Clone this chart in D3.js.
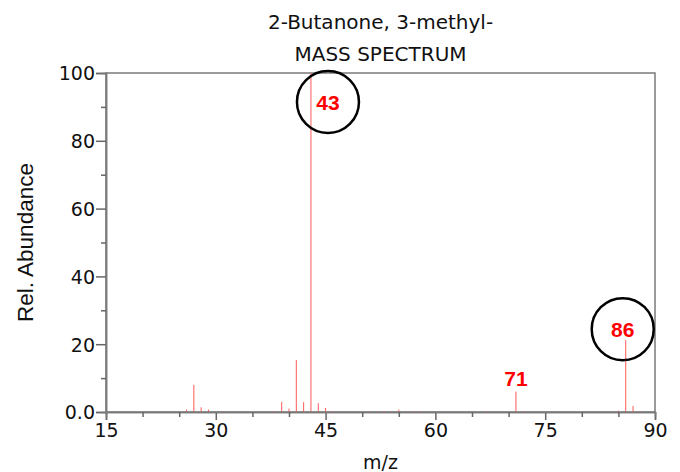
<!DOCTYPE html>
<html><head><meta charset="utf-8">
<script src="https://cdn.jsdelivr.net/npm/d3@7"></script>
<style>
html,body{margin:0;padding:0;background:#fff;}
svg{display:block;}
</style></head>
<body>
<script>
// ---- data ----
const titleLines = ["2-Butanone, 3-methyl-", "MASS SPECTRUM"];
const mzValues = [26, 27, 28, 29, 31, 37, 38, 39, 40, 41, 42, 43, 44, 45, 46,
                  51, 52, 53, 54, 55, 56, 57, 58, 59, 67, 68, 69, 71, 72, 84, 85, 86, 87, 88];
const abundances = [0.7, 8.0, 1.4, 0.7, 0.2, 0.2, 0.3, 3.0, 1.0, 15.3, 2.9, 100, 2.6, 1.2, 0.3,
                    0.2, 0.2, 0.3, 0.2, 0.7, 0.2, 0.3, 0.3, 0.2, 0.2, 0.2, 0.2, 6.0, 0.3, 0.2, 0.4, 21.2, 1.8, 0.2];
const xMajorTicks = [15, 30, 45, 60, 75, 90];
const xMinorTicks = [20, 25, 35, 40, 50, 55, 65, 70, 80, 85];
const yMajorTicks = [0, 20, 40, 60, 80, 100];
const yTickLabels = ["0.0", "20", "40", "60", "80", "100"];
const yMinorTicks = [10, 30, 50, 70, 90];
const labelledPeaks = [43, 71, 86];
const circledPeaks = [43, 86];

// ---- layout ----
const W = 680, H = 472;
const m = {left: 106, right: 25, top: 73, bottom: 60};
const svg = d3.select("body").append("svg").attr("width", W).attr("height", H);

const x = d3.scaleLinear().domain([15, 90]).range([m.left, W - m.right]);
const y = d3.scaleLinear().domain([0, 100]).range([H - m.bottom, m.top]);

const tickFont = "DejaVu Sans, sans-serif";
const axisColor = "#7a7a7a";

// title
svg.selectAll("text.title").data(titleLines).join("text")
  .attr("class", "title")
  .attr("x", (x(15) + x(90)) / 2)
  .attr("y", (d, i) => 29 + i * 32)
  .attr("text-anchor", "middle")
  .attr("font-family", tickFont)
  .attr("font-size", 20)
  .attr("fill", "#111")
  .text(d => d);

// frame (top & right)
svg.append("rect")
  .attr("x", x(15)).attr("y", y(100))
  .attr("width", x(90) - x(15)).attr("height", y(0) - y(100))
  .attr("fill", "none").attr("stroke", axisColor).attr("stroke-width", 1.5);

// peaks
svg.append("g").selectAll("line").data(mzValues).join("line")
  .attr("x1", d => x(d)).attr("x2", d => x(d))
  .attr("y1", y(0))
  .attr("y2", (d, i) => y(abundances[i]))
  .attr("stroke", "#ff5a5a").attr("stroke-width", 1);

// x axis
const xAxisMajor = d3.axisBottom(x).tickValues(xMajorTicks).tickSize(8).tickPadding(4)
  .tickFormat(d3.format("d"));
const gx = svg.append("g").attr("transform", `translate(0,${y(0)})`).call(xAxisMajor);
const xAxisMinor = d3.axisBottom(x).tickValues(xMinorTicks).tickSize(5).tickFormat("");
const gx2 = svg.append("g").attr("transform", `translate(0,${y(0)})`).call(xAxisMinor);

// y axis
const yAxisMajor = d3.axisLeft(y).tickValues(yMajorTicks).tickSize(10).tickPadding(1)
  .tickFormat((d, i) => yTickLabels[i]);
const gy = svg.append("g").attr("transform", `translate(${x(15)},0)`).call(yAxisMajor);
const yAxisMinor = d3.axisLeft(y).tickValues(yMinorTicks).tickSize(5).tickFormat("");
const gy2 = svg.append("g").attr("transform", `translate(${x(15)},0)`).call(yAxisMinor);

[gx, gx2, gy, gy2].forEach(g => {
  g.select(".domain").attr("stroke", axisColor).attr("stroke-width", 1.5);
  g.selectAll(".tick line").attr("stroke", "#666").attr("stroke-width", 1.5);
  g.selectAll(".tick text").attr("font-family", tickFont).attr("font-size", 19).attr("fill", "#111");
});
gy.selectAll(".tick text").attr("dy", "0.36em");

// axis titles
svg.append("text")
  .attr("x", (x(15) + x(90)) / 2).attr("y", 469)
  .attr("text-anchor", "middle")
  .attr("font-family", tickFont).attr("font-size", 19).attr("fill", "#111")
  .text("m/z");
svg.append("text")
  .attr("transform", `translate(33,${(y(0) + y(100)) / 2}) rotate(-90)`)
  .attr("text-anchor", "middle")
  .attr("font-family", "Liberation Sans, Arial, sans-serif").attr("font-size", 22.5).attr("fill", "#111")
  .text("Rel. Abundance");

// annotations
const peakVal = mz => abundances[mzValues.indexOf(mz)];
const ann = svg.append("g");
labelledPeaks.forEach(mz => {
  const px = x(mz), py = y(peakVal(mz));
  let cx, cy;
  if (mz === 43) { cx = px + 17; cy = py + 29; }
  else if (mz === 86) { cx = px - 3; cy = py - 11; }
  else { cx = px; cy = py - 13; }
  if (circledPeaks.includes(mz)) {
    ann.append("circle").attr("cx", cx).attr("cy", cy).attr("r", 31)
      .attr("fill", "none").attr("stroke", "#000").attr("stroke-width", 2.5);
  }
  ann.append("text").attr("x", cx).attr("y", cy + 7.5)
    .attr("text-anchor", "middle")
    .attr("font-family", "Liberation Sans, Arial, sans-serif")
    .attr("font-weight", "bold").attr("font-size", 21)
    .attr("fill", "#ff0000")
    .text(mz);
});
</script>
</body></html>
